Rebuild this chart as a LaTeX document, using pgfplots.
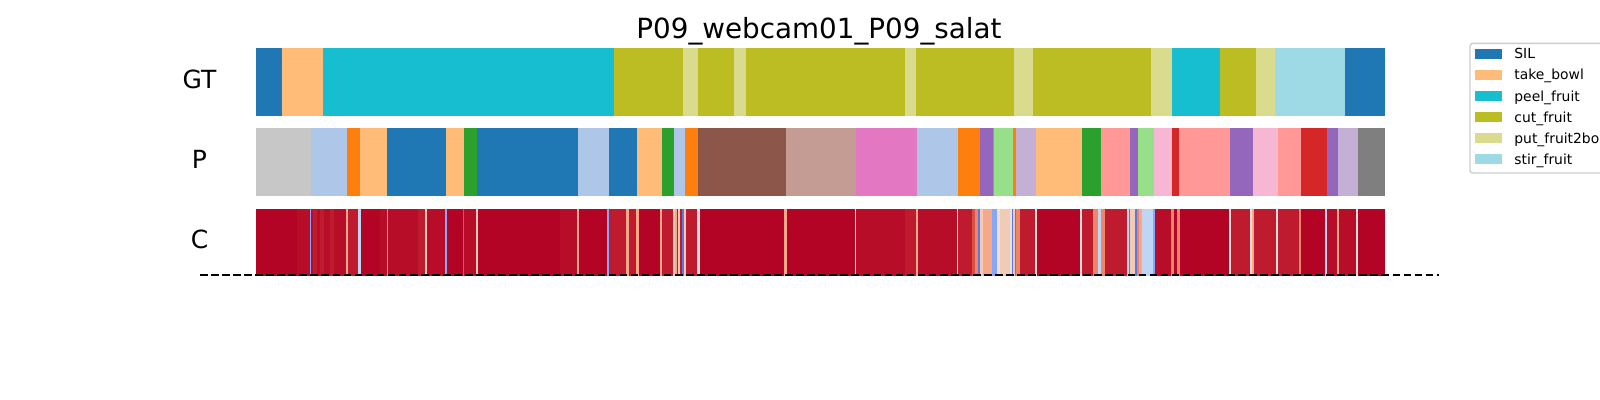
\documentclass[border=0pt]{standalone}
\usepackage{fontspec}
\setmainfont{DejaVu Sans}
\usepackage{pgfplots}
\pgfplotsset{compat=1.18}
% tab20 colours
\definecolor{tBlue}{HTML}{1F77B4}
\definecolor{tBlueL}{HTML}{AEC7E8}
\definecolor{tOrange}{HTML}{FF7F0E}
\definecolor{tOrangeL}{HTML}{FFBB78}
\definecolor{tGreen}{HTML}{2CA02C}
\definecolor{tGreenL}{HTML}{98DF8A}
\definecolor{tRed}{HTML}{D62728}
\definecolor{tRedL}{HTML}{FF9896}
\definecolor{tPurple}{HTML}{9467BD}
\definecolor{tPurpleL}{HTML}{C5B0D5}
\definecolor{tBrown}{HTML}{8C564B}
\definecolor{tBrownL}{HTML}{C49C94}
\definecolor{tPink}{HTML}{E377C2}
\definecolor{tPinkL}{HTML}{F7B6D2}
\definecolor{tGray}{HTML}{7F7F7F}
\definecolor{tGrayL}{HTML}{C7C7C7}
\definecolor{tOlive}{HTML}{BCBD22}
\definecolor{tOliveL}{HTML}{DBDB8D}
\definecolor{tCyan}{HTML}{17BECF}
\definecolor{tCyanL}{HTML}{9EDAE5}
% coolwarm samples
\definecolor{cwA}{HTML}{B40426}
\definecolor{cwB}{HTML}{B80D29}
\definecolor{cwC}{HTML}{BE1C2E}
\definecolor{cwD}{HTML}{D65244}
\definecolor{cwE}{HTML}{EE8468}
\definecolor{cwF}{HTML}{F6A889}
\definecolor{cwG}{HTML}{F2CBB7}
\definecolor{cwH}{HTML}{EDE0DA}
\definecolor{cwI}{HTML}{C0D4F5}
\definecolor{cwJ}{HTML}{84A7FC}
\definecolor{cwK}{HTML}{5A78E4}
% one segment of a row: start, end, colour
\newcommand\segG[3]{\addplot[forget plot,fill=#3,draw=#3,line width=0.3bp] coordinates {(#1,285) (#2,285) (#2,352) (#1,352)} -- cycle;}
\newcommand\segP[3]{\addplot[forget plot,fill=#3,draw=#3,line width=0.3bp] coordinates {(#1,205) (#2,205) (#2,272) (#1,272)} -- cycle;}
\newcommand\segC[3]{\addplot[forget plot,fill=#3,draw=#3,line width=0.2bp] coordinates {(#1,125) (#2,125) (#2,191) (#1,191)} -- cycle;}
\begin{document}
\begin{tikzpicture}
\useasboundingbox (0,0) rectangle (16in,4in);
\clip (0,0) rectangle (16in,4in);
\begin{axis}[
  at={(0,0)}, anchor=south west,
  width=16in, height=4in, scale only axis,
  xmin=0, xmax=1600, ymin=0, ymax=400,
  enlargelimits=false, hide axis, clip=false,
  legend image code/.code={\path[#1, draw=none, sharp corners] (0bp,0.15bp) rectangle (20bp,7.15bp);},
  legend cell align=left,
  legend style={at={(0.91831,0.89325)}, anchor=north west,
    draw=black!20, line width=1bp, rounded corners=2bp, fill=white,
    inner xsep=3.4bp, inner ysep=3.85bp, row sep=5.5bp, column sep=8.6bp,
    font=\fontsize{10bp}{12bp}\selectfont,
    cells={anchor=base west},
    nodes={inner sep=0pt, text height=7.29bp, text depth=2.4bp}},
]
\node[anchor=base, inner sep=0pt, font=\fontsize{20bp}{24bp}\selectfont] at (axis cs:819,361) {P09\_webcam01\_P09\_salat};
\node[anchor=base, inner sep=0pt, font=\fontsize{18bp}{22bp}\selectfont] at (axis cs:199.5,311.7) {GT};
\node[anchor=base, inner sep=0pt, font=\fontsize{18bp}{22bp}\selectfont] at (axis cs:199.5,231.7) {P};
\node[anchor=base, inner sep=0pt, font=\fontsize{18bp}{22bp}\selectfont] at (axis cs:199.5,151.2) {C};
% ---- GT row
\segG{256}{282}{tBlue}
\segG{282}{323}{tOrangeL}
\segG{323}{614}{tCyan}
\segG{614}{683}{tOlive}
\segG{683}{698}{tOliveL}
\segG{698}{734}{tOlive}
\segG{734}{746}{tOliveL}
\segG{746}{905}{tOlive}
\segG{905}{916}{tOliveL}
\segG{916}{1014}{tOlive}
\segG{1014}{1033}{tOliveL}
\segG{1033}{1151}{tOlive}
\segG{1151}{1172}{tOliveL}
\segG{1172}{1220}{tCyan}
\segG{1220}{1256}{tOlive}
\segG{1256}{1275}{tOliveL}
\segG{1275}{1345}{tCyanL}
\segG{1345}{1384}{tBlue}
% ---- P row
\segP{256}{311}{tGrayL}
\segP{311}{347}{tBlueL}
\segP{347}{360}{tOrange}
\segP{360}{387}{tOrangeL}
\segP{387}{446}{tBlue}
\segP{446}{464}{tOrangeL}
\segP{464}{477}{tGreen}
\segP{477}{578}{tBlue}
\segP{578}{609}{tBlueL}
\segP{609}{637}{tBlue}
\segP{637}{662}{tOrangeL}
\segP{662}{674}{tGreen}
\segP{674}{685}{tBlueL}
\segP{685}{698}{tOrange}
\segP{698}{786}{tBrown}
\segP{786}{856}{tBrownL}
\segP{856}{917}{tPink}
\segP{917}{958}{tBlueL}
\segP{958}{980}{tOrange}
\segP{980}{993}{tPurple}
\segP{993}{994}{tOrange}
\segP{994}{1013}{tGreenL}
\segP{1013}{1016}{tOrange}
\segP{1016}{1036}{tPurpleL}
\segP{1036}{1082}{tOrangeL}
\segP{1082}{1101}{tGreen}
\segP{1101}{1130}{tRedL}
\segP{1130}{1138}{tPurple}
\segP{1138}{1154}{tGreenL}
\segP{1154}{1172}{tPinkL}
\segP{1172}{1179}{tRed}
\segP{1179}{1230}{tRedL}
\segP{1230}{1253}{tPurple}
\segP{1253}{1278}{tPinkL}
\segP{1278}{1301}{tRedL}
\segP{1301}{1327}{tRed}
\segP{1327}{1338}{tPurple}
\segP{1338}{1358}{tPurpleL}
\segP{1358}{1384}{tGray}
% ---- C row (confidence, coolwarm)
\segC{256}{1384}{cwA}
\segC{297}{310}{cwB}
\segC{310}{311.5}{cwJ}
\segC{311.5}{346.5}{cwB}
\segC{313}{316}{cwC}
\segC{320}{323}{cwC}
\segC{330}{333}{cwC}
\segC{346.5}{347.8}{cwF}
\segC{348}{358}{cwC}
\segC{358.5}{359.8}{cwI}
\segC{380}{387}{cwB}
\segC{387}{388.2}{cwJ}
\segC{388.2}{418}{cwB}
\segC{418}{425.5}{cwC}
\segC{425.5}{426.8}{cwG}
\segC{427}{445}{cwB}
\segC{445}{446.2}{cwJ}
\segC{463}{464}{cwK}
\segC{464}{476}{cwB}
\segC{476}{477.2}{cwG}
\segC{560}{577}{cwB}
\segC{577}{578.2}{cwF}
\segC{607.5}{608.7}{cwJ}
\segC{609}{637}{cwC}
\segC{626.5}{627.7}{cwF}
\segC{636.5}{637.7}{cwF}
\segC{660.5}{662}{cwF}
\segC{662}{682.5}{cwC}
\segC{673.5}{674.5}{cwG}
\segC{675}{676}{cwF}
\segC{678.5}{679.5}{cwG}
\segC{682.5}{683.8}{cwK}
\segC{684.5}{685.5}{cwG}
\segC{686}{697.5}{cwC}
\segC{697.5}{698.7}{cwH}
\segC{784.5}{785.8}{cwF}
\segC{855}{856}{cwH}
\segC{856}{916.5}{cwB}
\segC{905}{916.5}{cwC}
\segC{916.5}{917.7}{cwF}
\segC{918}{957}{cwB}
\segC{957}{958}{cwH}
\segC{958}{972}{cwC}
\segC{972}{975}{cwD}
\segC{975}{978.5}{cwE}
\segC{978.5}{980}{cwK}
\segC{980}{983}{cwG}
\segC{983}{992}{cwF}
\segC{992}{997}{cwJ}
\segC{997}{1000}{cwH}
\segC{1000}{1010}{cwG}
\segC{1010}{1012}{cwH}
\segC{1012}{1013}{cwK}
\segC{1013}{1015.5}{cwG}
\segC{1015.5}{1016.5}{cwK}
\segC{1016.5}{1020}{cwE}
\segC{1020}{1035}{cwC}
\segC{1035}{1036}{cwH}
\segC{1080.5}{1081.5}{cwH}
\segC{1082}{1093}{cwC}
\segC{1093}{1098.5}{cwE}
\segC{1098.5}{1101.5}{cwI}
\segC{1101.5}{1105}{cwE}
\segC{1105}{1127}{cwC}
\segC{1127}{1129}{cwI}
\segC{1129}{1130}{cwK}
\segC{1130}{1135.5}{cwG}
\segC{1135.5}{1137}{cwK}
\segC{1137}{1139}{cwE}
\segC{1139}{1142}{cwF}
\segC{1142}{1153}{cwI}
\segC{1153}{1155}{cwJ}
\segC{1155}{1170}{cwB}
\segC{1171}{1173}{cwE}
\segC{1177.5}{1179}{cwE}
\segC{1229.5}{1230.7}{cwH}
\segC{1231}{1250.5}{cwC}
\segC{1250.5}{1251.5}{cwH}
\segC{1252.5}{1253.5}{cwF}
\segC{1254}{1276.5}{cwC}
\segC{1276.5}{1277.5}{cwH}
\segC{1278}{1299.5}{cwC}
\segC{1299.5}{1300.5}{cwE}
\segC{1325.5}{1326.7}{cwI}
\segC{1327}{1337.5}{cwB}
\segC{1337.5}{1338.5}{cwF}
\segC{1339}{1356.5}{cwB}
\segC{1356.5}{1357.5}{cwH}
% ---- dashed baseline
\addplot[forget plot, black, line width=1.5bp, dash pattern=on 5.55bp off 2.4bp] coordinates {(200,124.7) (1439,124.7)};
% ---- legend
\addlegendimage{fill=tBlue}\addlegendentry{SIL}
\addlegendimage{fill=tOrangeL}\addlegendentry{take\_bowl}
\addlegendimage{fill=tCyan}\addlegendentry{peel\_fruit}
\addlegendimage{fill=tOlive}\addlegendentry{cut\_fruit}
\addlegendimage{fill=tOliveL}\addlegendentry{put\_fruit2bowl}
\addlegendimage{fill=tCyanL}\addlegendentry{stir\_fruit}
\end{axis}
\end{tikzpicture}
\end{document}
